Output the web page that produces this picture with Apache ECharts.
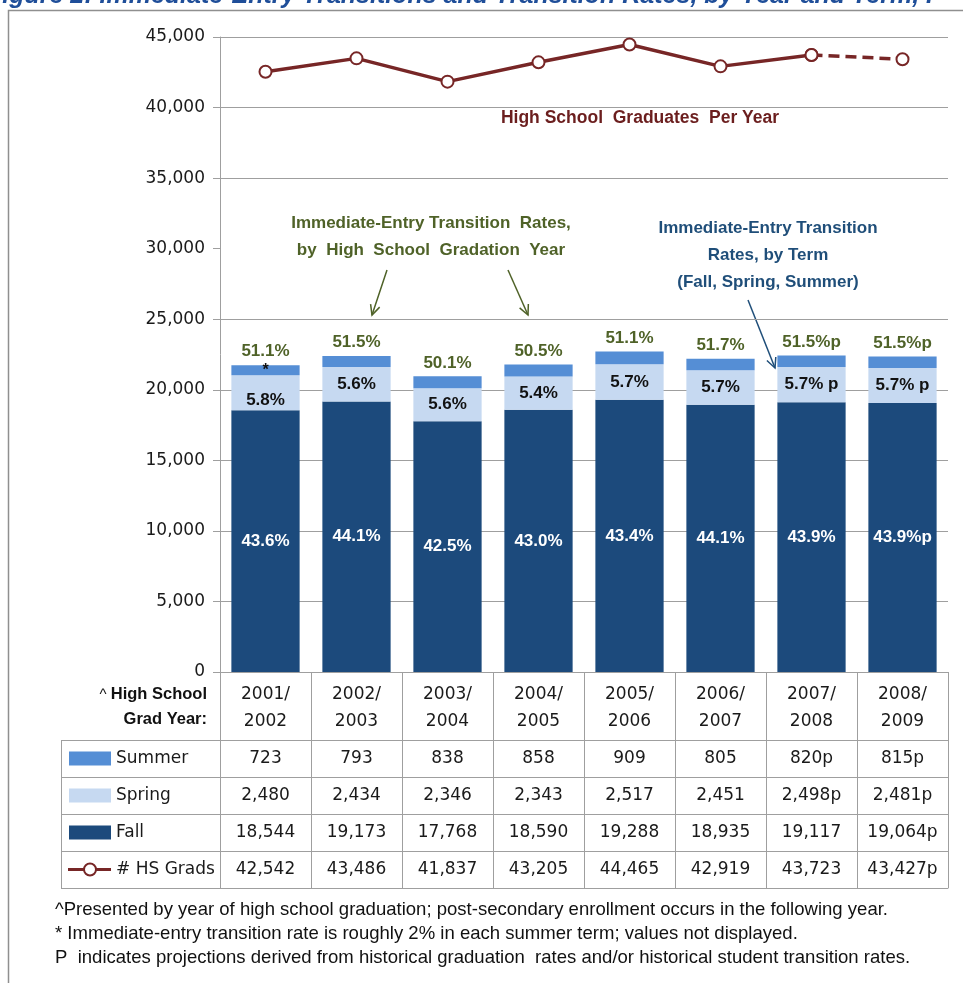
<!DOCTYPE html>
<html><head><meta charset="utf-8">
<script src="https://cdn.jsdelivr.net/npm/echarts@6/dist/echarts.min.js"></script>
<style>html,body{margin:0;padding:0;background:#fff}#c{width:963px;height:983px}</style>
</head><body><div id="c"></div>
<script>
// ---------- data ----------
const categories = ['2001/\n2002','2002/\n2003','2003/\n2004','2004/\n2005','2005/\n2006','2006/\n2007','2007/\n2008','2008/\n2009'];
const fall    = [18544, 19173, 17768, 18590, 19288, 18935, 19117, 19064];
const spring  = [2480, 2434, 2346, 2343, 2517, 2451, 2498, 2481];
const summer  = [723, 793, 838, 858, 909, 805, 820, 815];
const hsGrads = [42542, 43486, 41837, 43205, 44465, 42919, 43723, 43427];
const summerSuffix = ['','','','','','','p','p'];
const springSuffix = ['','','','','','','p','p'];
const fallSuffix   = ['','','','','','','','p'];
const gradsSuffix  = ['','','','','','','','p'];
const fallRates   = ['43.6%','44.1%','42.5%','43.0%','43.4%','44.1%','43.9%','43.9%p'];
const springRates = ['5.8%','5.6%','5.6%','5.4%','5.7%','5.7%','5.7% p','5.7% p'];
const totalRates  = ['51.1%','51.5%','50.1%','50.5%','51.1%','51.7%','51.5%p','51.5%p'];
const summerMarks = ['*','','','','','','',''];
const projectedFrom = 6; // index where projection (dashed line) starts
const yTicks = [0,5000,10000,15000,20000,25000,30000,35000,40000,45000];
const rowNames = ['Summer','Spring','Fall','# HS Grads'];
const footnotes = [
  '^Presented by year of high school graduation; post-secondary enrollment occurs in the following year.',
  '* Immediate-entry transition rate is roughly 2% in each summer term; values not displayed.',
  'P  indicates projections derived from historical graduation  rates and/or historical student transition rates.'
];

// ---------- style / layout ----------
const C_FALL = '#1c4a7c', C_SPRING = '#c6d9f1', C_SUMMER = '#558ed5', C_LINE = '#772626';
const C_GREEN = '#4f6228', C_BLUE = '#1f4e79', C_GRID = '#9f9f9f';
const FONT = '"DejaVu Sans"', BFONT = '"Liberation Sans"';
const G_LEFT = 220, G_RIGHT = 15, G_TOP = 37, G_BOTTOM_Y = 672;
const HEADER_H = 68, ROW_H = 37, TAB_LEFT = 61;

const fmt = v => v.toLocaleString('en-US');
const rows = [
  summer.map((v,i)=>fmt(v)+summerSuffix[i]),
  spring.map((v,i)=>fmt(v)+springSuffix[i]),
  fall.map((v,i)=>fmt(v)+fallSuffix[i]),
  hsGrads.map((v,i)=>fmt(v)+gradsSuffix[i])
];
const totals = fall.map((v,i)=>v+spring[i]+summer[i]);

const splitColors = yTicks.map(t => t === 30000 ? 'rgba(0,0,0,0)' : C_GRID);

const rowAxes = rows.map((r,k)=>({
  type:'category', gridIndex:0, position:'bottom', offset: HEADER_H + k*ROW_H,
  data: categories,
  axisLine:{show:true, lineStyle:{color:C_GRID, width:1}},
  axisTick:{show:true, length:ROW_H, interval:0, lineStyle:{color:C_GRID}},
  axisLabel:{interval:0, margin:10, fontSize:17, fontFamily:FONT, color:'#1a1a1a',
    formatter:(v,i)=>r[i]},
  splitLine:{show:false}
}));
rowAxes.push({
  type:'category', gridIndex:0, position:'bottom', offset: HEADER_H + rows.length*ROW_H,
  data: categories, axisLine:{show:true, lineStyle:{color:C_GRID}},
  axisTick:{show:false}, axisLabel:{show:false}
});

function arrow(x1,y1,x2,y2,color,w){
  const a = Math.atan2(y2-y1,x2-x1), L = 11, s = 0.45;
  return [
    {type:'line', shape:{x1,y1,x2,y2}, style:{stroke:color, lineWidth:w}},
    {type:'polyline', shape:{points:[
      [x2 - L*Math.cos(a-s), y2 - L*Math.sin(a-s)], [x2,y2],
      [x2 - L*Math.cos(a+s), y2 - L*Math.sin(a+s)]]}, style:{stroke:color, lineWidth:w, fill:null}}
  ];
}

// measure text to condense footnotes like the original narrow font
const mctx = document.createElement('canvas').getContext('2d');
const FOOT_FONT = '18.5px "Liberation Sans"';
mctx.font = FOOT_FONT;
const footScale = 833 / mctx.measureText(footnotes[0]).width;

const tabBottom = G_BOTTOM_Y + HEADER_H + rows.length*ROW_H;
const graphics = [];
// outer frame
graphics.push({type:'rect', shape:{x:8.5,y:10.5,width:1000,height:1000}, style:{stroke:'#8f8f8f', lineWidth:1.5, fill:null}});
// title (clipped at top)
graphics.push({type:'text', x:-13, y:-16, style:{text:'Figure 2: Immediate-Entry Transitions and Transition Rates, by Year and Term, I',
  font:'italic bold 25px "Liberation Sans"', fill:'#1f4e99', verticalAlign:'top'}});
// left table column lines
for (let k=0;k<=rows.length;k++){
  const y = G_BOTTOM_Y + HEADER_H + k*ROW_H + 0.5;
  graphics.push({type:'line', shape:{x1:TAB_LEFT, y1:y, x2:G_LEFT, y2:y}, style:{stroke:C_GRID, lineWidth:1}});
}
graphics.push({type:'line', shape:{x1:TAB_LEFT+0.5, y1:G_BOTTOM_Y+HEADER_H, x2:TAB_LEFT+0.5, y2:tabBottom}, style:{stroke:C_GRID, lineWidth:1}});
graphics.push({type:'line', shape:{x1:G_LEFT+0.5, y1:G_BOTTOM_Y, x2:G_LEFT+0.5, y2:tabBottom}, style:{stroke:C_GRID, lineWidth:1}});
// header label
graphics.push({type:'text', x:207, y:G_BOTTOM_Y+35, style:{
  text:'{n|^ }{b|High School}\n{b|Grad Year:}', align:'right', verticalAlign:'middle',
  rich:{n:{font:'15px '+BFONT, fill:'#111', lineHeight:25}, b:{font:'bold 16.5px '+BFONT, fill:'#111', lineHeight:25, align:'right'}}}});
// legend swatches
const swatchColors = [C_SUMMER, C_SPRING, C_FALL];
rows.forEach((r,k)=>{
  const cy = G_BOTTOM_Y + HEADER_H + k*ROW_H + ROW_H/2;
  if (k < 3) {
    graphics.push({type:'rect', shape:{x:69, y:cy-7, width:42, height:14}, style:{fill:swatchColors[k]}});
  } else {
    graphics.push({type:'line', shape:{x1:68,y1:cy,x2:111,y2:cy}, style:{stroke:C_LINE, lineWidth:3}});
    graphics.push({type:'circle', shape:{cx:90,cy:cy,r:6}, style:{fill:'#fff', stroke:C_LINE, lineWidth:2}});
  }
  graphics.push({type:'text', x:116, y:cy, style:{text:rowNames[k], font:'17px '+FONT, fill:'#1a1a1a', verticalAlign:'middle'}});
});
// annotations
graphics.push({type:'text', x:640, y:118, style:{text:'High School  Graduates  Per Year', align:'center', verticalAlign:'middle',
  font:'bold 17.5px '+BFONT, fill:'#6b1e1e'}});
graphics.push({type:'text', x:431, y:237, style:{text:'Immediate-Entry Transition  Rates,\nby  High  School  Gradation  Year', align:'center', verticalAlign:'middle',
  font:'bold 17px '+BFONT, fill:C_GREEN, lineHeight:27}});
graphics.push({type:'text', x:768, y:255, style:{text:'Immediate-Entry Transition\nRates, by Term\n(Fall, Spring, Summer)', align:'center', verticalAlign:'middle',
  font:'bold 17px '+BFONT, fill:C_BLUE, lineHeight:27}});
graphics.push(...arrow(387,270,372,315,C_GREEN,1.5));
graphics.push(...arrow(508,270,528,315,C_GREEN,1.5));
graphics.push(...arrow(748,300,775,368,C_BLUE,1.5));
// footnotes
footnotes.forEach((t,i)=>{
  graphics.push({type:'text', x:55, y:910+i*24, scaleX:footScale, style:{text:t, font:FOOT_FONT, fill:'#111', verticalAlign:'middle'}});
});

const barLabelBase = {show:true, position:'inside', fontFamily:BFONT, fontWeight:'bold', fontSize:17};

const option = {
  backgroundColor:'#fff',
  animation:false,
  grid:{left:G_LEFT, right:G_RIGHT, top:G_TOP, bottom:983-G_BOTTOM_Y, containLabel:false},
  xAxis:[{
    type:'category', data:categories,
    axisLine:{show:true, lineStyle:{color:C_GRID}},
    axisTick:{show:true, length:HEADER_H, interval:0, lineStyle:{color:C_GRID}},
    axisLabel:{interval:0, margin:9, fontSize:17, lineHeight:27, fontFamily:FONT, color:'#1a1a1a'}
  }, ...rowAxes],
  yAxis:{
    type:'value', min:0, max:45000, interval:5000,
    axisLine:{show:true, lineStyle:{color:C_GRID}},
    axisTick:{show:true, length:7, lineStyle:{color:C_GRID}},
    axisLabel:{margin:15, fontSize:17, fontFamily:FONT, color:'#1a1a1a', formatter:v=>fmt(v)},
    splitLine:{show:true, lineStyle:{color:splitColors, width:1.2}}
  },
  series:[
    {name:'Fall', type:'bar', stack:'t', barCategoryGap:'25%', data:fall,
     itemStyle:{color:C_FALL},
     label:{...barLabelBase, color:'#fff', formatter:p=>fallRates[p.dataIndex]}},
    {name:'Spring', type:'bar', stack:'t', data:spring.map((v,i)=>i===0?{value:v,label:{offset:[0,7]}}:v),
     itemStyle:{color:C_SPRING},
     label:{...barLabelBase, color:'#111', formatter:p=>springRates[p.dataIndex]}},
    {name:'Summer', type:'bar', stack:'t', data:summer,
     itemStyle:{color:C_SUMMER},
     label:{...barLabelBase, color:'#111', fontSize:16, formatter:p=>summerMarks[p.dataIndex]}},
    {name:'Totals', type:'scatter', data:totals, symbolSize:0, silent:true, itemStyle:{opacity:1},
     label:{show:true, position:'top', distance:5, fontFamily:BFONT, fontWeight:'bold', fontSize:17, color:C_GREEN, opacity:1,
       formatter:p=>totalRates[p.dataIndex]}},
    {name:'# HS Grads', type:'line', data:hsGrads.map((v,i)=> i<=projectedFrom ? v : '-'),
     symbol:'circle', symbolSize:12, showAllSymbol:true,
     lineStyle:{color:C_LINE, width:3.5}, itemStyle:{color:'#fff', borderColor:C_LINE, borderWidth:2}, z:5},
    {name:'# HS Grads (proj)', type:'line', data:hsGrads.map((v,i)=> i>=projectedFrom ? v : '-'),
     symbol:'circle', symbolSize:12,
     lineStyle:{color:C_LINE, width:3.5, type:[11,6]}, itemStyle:{color:'#fff', borderColor:C_LINE, borderWidth:2}, z:6}
  ],
  graphic: graphics
};
const chart = echarts.init(document.getElementById('c'), null, {renderer:'canvas'});
chart.setOption(option);
</script></body></html>
